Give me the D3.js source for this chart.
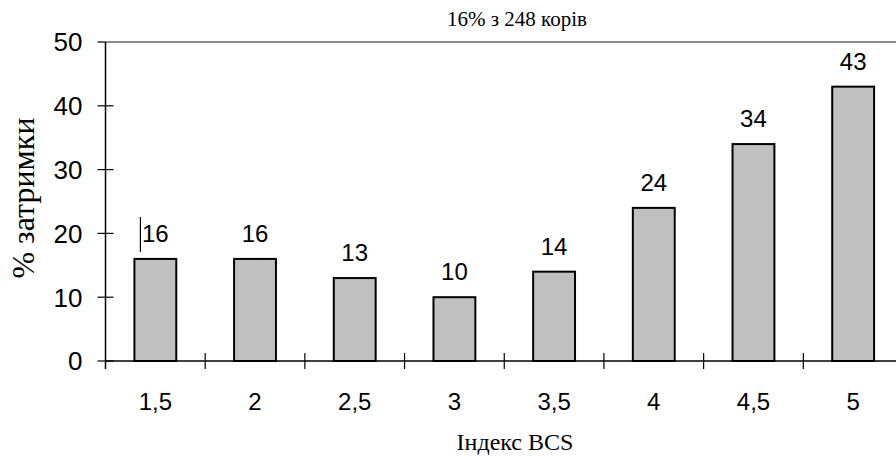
<!DOCTYPE html>
<html><head><meta charset="utf-8">
<script src="https://cdn.jsdelivr.net/npm/d3@7"></script>
<style>html,body{margin:0;padding:0;background:#fff;}svg{display:block;}</style>
</head><body>
<svg id="chart" width="896" height="457"></svg>
<script>
const categories = ["1,5","2","2,5","3","3,5","4","4,5","5"];
const values = [16,16,13,10,14,24,34,43];
const yTicks = [0,10,20,30,40,50];
const title = "16% з 248 корів";
const xTitle = "Індекс BCS";
const yTitle = "% затримки";

const SANS = "'Liberation Sans', Arial, sans-serif";
const SERIF = "'Liberation Serif', 'Times New Roman', serif";

const svg = d3.select("#chart");
const mLeft = 105.5, mRight = 903, mTop = 42, mBottom = 361;

const x = d3.scaleBand().domain(categories).range([mLeft, mRight]).paddingInner(0.58).paddingOuter(0.29);
const xb = d3.scaleBand().domain(categories).range([mLeft, mRight]);
const y = d3.scaleLinear().domain([0,50]).range([mBottom, mTop]);

// top gray line
svg.append("line").attr("x1", mLeft).attr("x2", 896).attr("y1", y(50)).attr("y2", y(50))
  .attr("stroke", "#8a8a8a").attr("stroke-width", 2);

// bars
svg.selectAll("rect.bar").data(values).enter().append("rect")
  .attr("x", (d,i) => x(categories[i]))
  .attr("y", d => y(d))
  .attr("width", x.bandwidth())
  .attr("height", d => y(0) - y(d))
  .attr("fill", "#c0c0c0").attr("stroke", "#000").attr("stroke-width", 2);

// x axis
const gx = svg.append("g").attr("transform", `translate(0,${mBottom})`);
gx.append("line").attr("x1", mLeft).attr("x2", 896).attr("y1", 0).attr("y2", 0).attr("stroke", "#000").attr("stroke-width", 1.5);
gx.selectAll("line.tk").data(categories.slice(1)).enter().append("line")
  .attr("x1", d => xb(d)).attr("x2", d => xb(d)).attr("y1", -8).attr("y2", 8)
  .attr("stroke", "#000").attr("stroke-width", 1.2);
gx.selectAll("text.tl").data(categories).enter().append("text")
  .attr("x", d => xb(d) + xb.bandwidth()/2).attr("y", 49)
  .attr("text-anchor", "middle").attr("font-family", SANS)
  .attr("font-size", 24).attr("fill", "#000").text(d => d);

// y axis
const gy = svg.append("g");
gy.append("line").attr("x1", mLeft).attr("x2", mLeft).attr("y1", y(50)).attr("y2", y(0) + 8).attr("stroke", "#000").attr("stroke-width", 1.5);
gy.selectAll("line.tk").data(yTicks).enter().append("line")
  .attr("x1", mLeft - 8).attr("x2", d => d === 50 ? mLeft : mLeft + 8)
  .attr("y1", d => y(d)).attr("y2", d => y(d))
  .attr("stroke", "#000").attr("stroke-width", 1.2);
gy.selectAll("text.tl").data(yTicks).enter().append("text")
  .attr("x", mLeft - 23).attr("y", d => y(d)).attr("dy", "0.36em")
  .attr("text-anchor", "end").attr("font-family", SANS)
  .attr("font-size", 26).attr("fill", "#000").text(d => d);

// value labels
svg.selectAll("text.val").data(values).enter().append("text")
  .attr("x", (d,i) => x(categories[i]) + x.bandwidth()/2)
  .attr("y", d => y(d) - 17)
  .attr("text-anchor", "middle").attr("font-family", SANS)
  .attr("font-size", 24).attr("fill", "#000").text(d => d);

// small cursor-like vertical mark near first label
svg.append("line")
  .attr("x1", x(categories[0]) + 6).attr("x2", x(categories[0]) + 6)
  .attr("y1", y(values[0]) - 42).attr("y2", y(values[0]) - 7)
  .attr("stroke", "#000").attr("stroke-width", 1.2);

// titles
svg.append("text").attr("x", 517).attr("y", 26).attr("text-anchor", "middle")
  .attr("font-family", SERIF).attr("font-size", 21).attr("fill", "#000").text(title);
svg.append("text").attr("x", 515).attr("y", 450).attr("text-anchor", "middle")
  .attr("font-family", SERIF).attr("font-size", 24).attr("fill", "#000").text(xTitle);
svg.append("text").attr("transform", "translate(34,198) rotate(-90)").attr("text-anchor", "middle")
  .attr("font-family", SERIF).attr("font-size", 32).attr("fill", "#000").text(yTitle);
</script>
</body></html>
